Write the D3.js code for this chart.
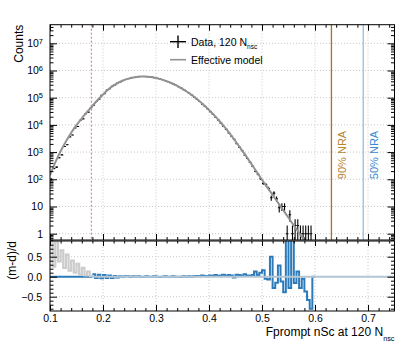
<!DOCTYPE html>
<html><head><meta charset="utf-8">
<script src="https://cdn.jsdelivr.net/npm/d3@7"></script>
<style>
body{margin:0;background:#fff;}
svg text{font-family:"Liberation Sans",Arial,Helvetica,sans-serif;}
</style></head><body>
<svg id="c" width="415" height="345"></svg>
<script>
// ---- data ----
const modelX = [0.10,0.11,0.12,0.13,0.14,0.15,0.16,0.17,0.18,0.19,0.20,0.21,0.22,0.23,0.24,0.25,0.26,0.27,0.28,0.29,0.30,0.31,0.32,0.33,0.34,0.35,0.36,0.37,0.38,0.39,0.40,0.41,0.42,0.43,0.44,0.45,0.46,0.47,0.48,0.49,0.50,0.51,0.52,0.53,0.54,0.55,0.56,0.57,0.58,0.59,0.60];
const modelCounts = [141,417,1070,2450,5130,9770,17400,29900,50100,82200,132000,200000,282000,363000,447000,513000,562000,596000,603000,575000,531000,473000,407000,339000,272000,211000,158000,115000,80400,54300,35500,22400,13600,8040,4570,2510,1350,708,367,188,96.6,50.7,26.6,14.0,7.33,3.85,2.02,1.06,0.556,0.292,0.153];
const binStart = 0.1, binWidth = 0.005;
const dataCounts = [100,250,280,620,790,1600,1860,3630,4270,7760,8710,14800,16600,25700,29500,42700,
 52500,72400,87000,123000,141000,191000,214000,263000,295000,347000,380000,427000,468000,
 501000,525000,550000,575000,589000,598000,601000,597000,587000,570000,548000,516000,488000,455000,421000,386000,353000,321000,288000,256000,225000,197000,170000,146000,125000,
 104000,86100,72100,58100,47900,39100,30700,24600,19000,15100,11600,8750,6840,5060,3820,2980,2050,1520,1120,785,583,424,299,197,
 153,104,71,63,46,21,31,19,9,10,10,1,5,1,2,2,1,1,1,1,1,0];
const residuals = [0.88,0.25,0.88,0.38,0.66,0.22,0.55,0.15,0.40,0.10,0.32,0.05,0.22,0.03,0.13,0.02,
 0.06,-0.03,0.05,-0.04,0.04,-0.03,0.03,-0.03,0.02,-0.02,0.01,-0.01,0.01,
 0.01,-0.01,0.01,0.0,0.01,-0.01,0.0,0.01,0.0,0.0,0.01,0.0,-0.01,0.0,0.01,0.0,0.0,0.01,0.0,0.0,-0.01,0.01,0.0,0.01,0.0,
 0.01,0.02,0.01,0.03,0.02,0.01,0.03,0.02,0.04,0.02,0.03,0.05,0.02,0.04,0.03,-0.02,0.05,0.04,0.02,0.06,0.03,0.02,0.04,0.13,
 0.04,0.10,0.16,-0.05,-0.07,0.50,-0.28,-0.15,0.28,-0.12,-0.39,2.5,-0.28,1.8,-0.16,0.13,-0.28,-0.05,-0.37,-0.58,-0.80,0.0];
const fitStartBin = 16;
const xTickValues = [0.1,0.2,0.3,0.4,0.5,0.6,0.7];
const xTickLabels = ["0.1","0.2","0.3","0.4","0.5","0.6","0.7"];
const yDecades = [0,1,2,3,4,5,6,7];
const resTickValues = [-0.5,0,0.5];
const resTickLabels = ["\u22120.5","0.0","0.5"];
const cutX = 0.178, nra90 = 0.631, nra50 = 0.691;

// ---- layout ----
const L=50,R=394.5,T1=24.7,B1=240,T2=241,B2=311;
const svg = d3.select("#c");
const x = d3.scaleLinear().domain([0.1,0.75]).range([L,R]);
const y = d3.scaleLog().domain([0.586,4.83e7]).range([B1,T1]);
const yr = d3.scaleLinear().domain([-0.8575,0.8925]).range([B2,T2]);

const defs = svg.append("defs");
defs.append("clipPath").attr("id","cp1").append("rect").attr("x",L).attr("y",T1).attr("width",R-L).attr("height",B1-T1);
defs.append("clipPath").attr("id","cp2").append("rect").attr("x",L).attr("y",T2).attr("width",R-L).attr("height",B2-T2);

const gridC = "#c9c9c9";
// grids
const g1 = svg.append("g");
xTickValues.slice(1).forEach(v=>{
  g1.append("line").attr("x1",x(v)).attr("x2",x(v)).attr("y1",T1).attr("y2",B1).attr("stroke",gridC).attr("stroke-dasharray","1,2");
  g1.append("line").attr("x1",x(v)).attr("x2",x(v)).attr("y1",T2).attr("y2",B2).attr("stroke",gridC).attr("stroke-dasharray","1,2");
});
yDecades.forEach(e=>{
  g1.append("line").attr("x1",L).attr("x2",R).attr("y1",y(10**e)).attr("y2",y(10**e)).attr("stroke",gridC).attr("stroke-dasharray","1,2");
});
resTickValues.forEach(v=>{
  g1.append("line").attr("x1",L).attr("x2",R).attr("y1",yr(v)).attr("y2",yr(v)).attr("stroke",gridC).attr("stroke-dasharray","1,2");
});

// ---- top pad: data ----
const bins = dataCounts.map((c,i)=>({x0:binStart+i*binWidth, x1:binStart+(i+1)*binWidth, c, r:residuals[i]}));
const gd = svg.append("g").attr("clip-path","url(#cp1)").attr("stroke","#000").attr("stroke-width",1.1);
const yMin = y.domain()[0];
bins.filter(b=>b.c>0).forEach(b=>{
  const xc=(b.x0+b.x1)/2, e=Math.sqrt(b.c);
  const lo = b.c-e>yMin ? b.c-e : yMin*0.5;
  gd.append("line").attr("x1",x(b.x0)).attr("x2",x(b.x1)).attr("y1",y(b.c)).attr("y2",y(b.c));
  gd.append("line").attr("x1",x(xc)).attr("x2",x(xc)).attr("y1",y(lo)).attr("y2",y(b.c+e));
});
// model
const model = modelX.map((v,i)=>({x:v,c:modelCounts[i]}));
svg.append("path").attr("clip-path","url(#cp1)").datum(model)
  .attr("d",d3.line().x(d=>x(d.x)).y(d=>y(d.c)).curve(d3.curveMonotoneX))
  .attr("fill","none").attr("stroke","#929292").attr("stroke-width",2);

// vertical lines
svg.append("line").attr("x1",x(cutX)).attr("x2",x(cutX)).attr("y1",T1).attr("y2",B1).attr("stroke","#e06a6a").attr("stroke-width",1).attr("stroke-dasharray","2,2");
svg.append("line").attr("x1",x(nra90)).attr("x2",x(nra90)).attr("y1",T1).attr("y2",B1).attr("stroke","#a8741e").attr("stroke-width",1.3);
svg.append("line").attr("x1",x(nra50)).attr("x2",x(nra50)).attr("y1",T1).attr("y2",B1).attr("stroke","#94bce0").attr("stroke-width",1.3);
svg.append("text").attr("transform",`translate(${x(nra90)+14.5},155) rotate(-90)`).attr("text-anchor","middle")
  .attr("font-size",11).attr("fill","#b8862c").text("90% NRA");
svg.append("text").attr("transform",`translate(${x(nra50)+14.5},155) rotate(-90)`).attr("text-anchor","middle")
  .attr("font-size",11).attr("fill","#3a8ad0").text("50% NRA");

// ---- lower pad: residuals ----
const stepLine = d3.line().x(p=>x(p[0])).y(p=>yr(p[1])).curve(d3.curveStepAfter);
function stepPts(arr){ const p=arr.map(b=>[b.x0,b.r]); const l=arr[arr.length-1]; p.push([l.x1,l.r]); return p; }
const g2 = svg.append("g").attr("clip-path","url(#cp2)");
g2.append("line").attr("x1",x(0.1)).attr("x2",x(bins[fitStartBin].x0)).attr("y1",yr(0)).attr("y2",yr(0)).attr("stroke","#2b7bba").attr("stroke-width",2);
g2.append("path").datum(stepPts(bins.slice(0,fitStartBin))).attr("d",stepLine).attr("fill","none").attr("stroke","#cccccc").attr("stroke-width",2.2);
g2.append("path").datum(stepPts(bins.slice(fitStartBin))).attr("d",stepLine).attr("fill","none").attr("stroke","#2b7bba").attr("stroke-width",2);
g2.append("line").attr("x1",x(bins[fitStartBin].x0)).attr("x2",R).attr("y1",yr(0)).attr("y2",yr(0)).attr("stroke","#b4c6d4").attr("stroke-width",2);

// ---- axes ----
function clean(g){ g.select(".domain").remove(); g.selectAll("line").attr("stroke","#000"); g.selectAll("text").attr("font-size",10.5).attr("fill","#000").attr("font-family",null); }
const xMinor = d3.range(0.12,0.75,0.02).filter(v=>Math.abs(v*10-Math.round(v*10))>1e-6);
const logMinor = [];
for(let e=-1;e<=7;e++) for(let m=2;m<=9;m++){ const v=m*10**e; if(v>y.domain()[0] && v<y.domain()[1]) logMinor.push(v); }
const resMinor = d3.range(-8,9).map(k=>k/10).filter(v=>Math.abs(v*2-Math.round(v*2))>1e-6);

// top pad
svg.append("g").attr("transform",`translate(${L},0)`)
  .call(d3.axisLeft(y).tickValues(yDecades.map(e=>10**e)).tickSize(-7).tickPadding(7).tickFormat(d=>{const e=Math.round(Math.log10(d)); return e===0?"1":"10";}))
  .call(clean)
  .call(g=>g.selectAll(".tick text").each(function(d){const e=Math.round(Math.log10(d)); if(e>=2) d3.select(this).append("tspan").attr("dy","-0.45em").attr("font-size","7.5px").text(e);}));
svg.append("g").attr("transform",`translate(${L},0)`).call(d3.axisLeft(y).tickValues(logMinor).tickSize(-3.5).tickFormat("")).call(clean);
svg.append("g").attr("transform",`translate(${R},0)`).call(d3.axisRight(y).tickValues(yDecades.map(e=>10**e)).tickSize(-7).tickFormat("")).call(clean);
svg.append("g").attr("transform",`translate(${R},0)`).call(d3.axisRight(y).tickValues(logMinor).tickSize(-3.5).tickFormat("")).call(clean);
svg.append("g").attr("transform",`translate(0,${T1})`).call(d3.axisTop(x).tickValues(xTickValues).tickSize(-6).tickFormat("")).call(clean);
svg.append("g").attr("transform",`translate(0,${T1})`).call(d3.axisTop(x).tickValues(xMinor).tickSize(-3).tickFormat("")).call(clean);
svg.append("g").attr("transform",`translate(0,${B1})`).call(d3.axisBottom(x).tickValues(xTickValues).tickSize(-6).tickFormat("")).call(clean);
svg.append("g").attr("transform",`translate(0,${B1})`).call(d3.axisBottom(x).tickValues(xMinor).tickSize(-3).tickFormat("")).call(clean);

// lower pad
svg.append("g").attr("transform",`translate(${L},0)`)
  .call(d3.axisLeft(yr).tickValues(resTickValues).tickSize(-7).tickPadding(8).tickFormat((d,i)=>resTickLabels[i])).call(clean);
svg.append("g").attr("transform",`translate(${L},0)`).call(d3.axisLeft(yr).tickValues(resMinor).tickSize(-3.5).tickFormat("")).call(clean);
svg.append("g").attr("transform",`translate(${R},0)`).call(d3.axisRight(yr).tickValues(resTickValues).tickSize(-7).tickFormat("")).call(clean);
svg.append("g").attr("transform",`translate(${R},0)`).call(d3.axisRight(yr).tickValues(resMinor).tickSize(-3.5).tickFormat("")).call(clean);
svg.append("g").attr("transform",`translate(0,${T2})`).call(d3.axisTop(x).tickValues(xTickValues).tickSize(-5).tickFormat("")).call(clean);
svg.append("g").attr("transform",`translate(0,${T2})`).call(d3.axisTop(x).tickValues(xMinor).tickSize(-2.5).tickFormat("")).call(clean);
svg.append("g").attr("transform",`translate(0,${B2})`)
  .call(d3.axisBottom(x).tickValues(xTickValues).tickSize(-6).tickPadding(3.5).tickFormat((d,i)=>xTickLabels[i])).call(clean);
svg.append("g").attr("transform",`translate(0,${B2})`).call(d3.axisBottom(x).tickValues(xMinor).tickSize(-3).tickFormat("")).call(clean);

// frames
svg.append("rect").attr("x",L).attr("y",T1).attr("width",R-L).attr("height",B1-T1).attr("fill","none").attr("stroke","#000").attr("stroke-width",1);
svg.append("rect").attr("x",L).attr("y",T2).attr("width",R-L).attr("height",B2-T2).attr("fill","none").attr("stroke","#000").attr("stroke-width",1);

// titles
svg.append("text").attr("transform",`translate(22.5,${T1}) rotate(-90)`).attr("text-anchor","end").attr("font-size",12).text("Counts");
svg.append("text").attr("transform",`translate(15.5,${T2}) rotate(-90)`).attr("text-anchor","end").attr("font-size",12).text("(m-d)/d");
const xt = svg.append("text").attr("x",R).attr("y",336).attr("text-anchor","end").attr("font-size",12);
xt.append("tspan").text("Fprompt nSc at 120 N");
xt.append("tspan").attr("font-size","7.3px").attr("dy",4.5).text("nsc");

// legend
const lg = svg.append("g");
lg.append("line").attr("x1",170).attr("x2",186).attr("y1",41.7).attr("y2",41.7).attr("stroke","#000").attr("stroke-width",1.4);
lg.append("line").attr("x1",178).attr("x2",178).attr("y1",35.5).attr("y2",48).attr("stroke","#000").attr("stroke-width",1.4);
const lt = lg.append("text").attr("x",191).attr("y",46).attr("font-size",10.5);
lt.append("tspan").text("Data, 120 N");
lt.append("tspan").attr("font-size","6.5px").attr("dy",3).text("nsc");
lg.append("line").attr("x1",170).attr("x2",186).attr("y1",59.7).attr("y2",59.7).attr("stroke","#929292").attr("stroke-width",1.6);
lg.append("text").attr("x",191).attr("y",63.5).attr("font-size",10.5).text("Effective model");
</script></body></html>
